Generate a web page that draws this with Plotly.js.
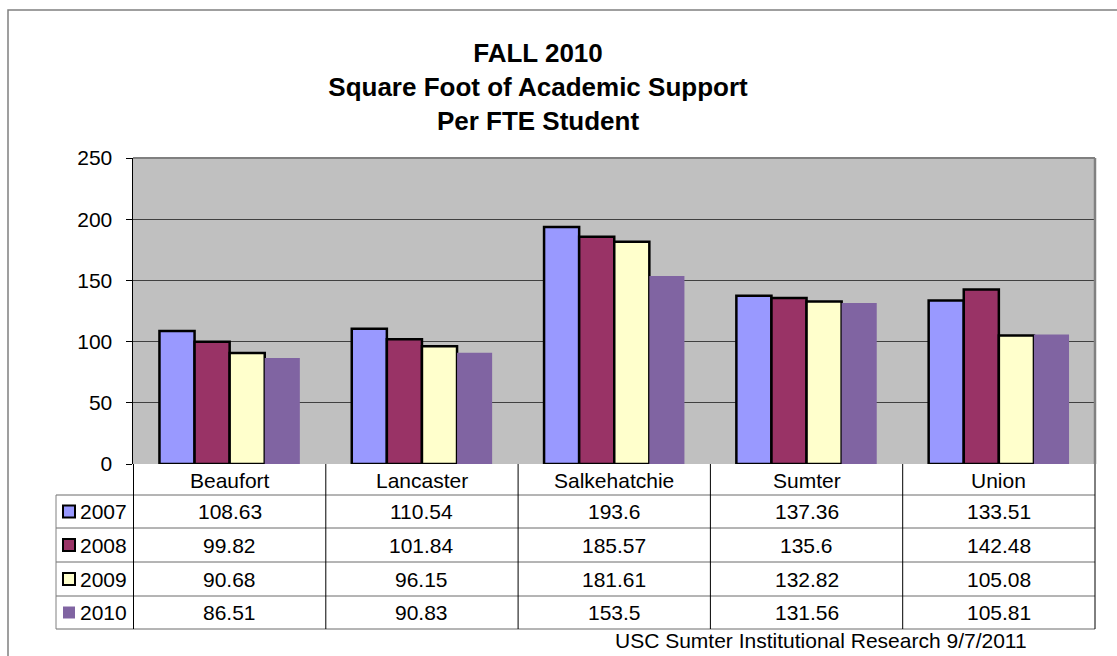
<!DOCTYPE html>
<html>
<head>
<meta charset="utf-8">
<script src="https://cdn.plot.ly/plotly-3.0.1.min.js"></script>
<style>html,body{margin:0;padding:0;background:#fff;}#chart{width:1117px;height:656px;}</style>
</head>
<body>
<div id="chart"></div>
<script>
var categories = ["Beaufort", "Lancaster", "Salkehatchie", "Sumter", "Union"];
var seriesNames = ["2007", "2008", "2009", "2010"];
var values2007 = [108.63, 110.54, 193.6, 137.36, 133.51];
var values2008 = [99.82, 101.84, 185.57, 135.6, 142.48];
var values2009 = [90.68, 96.15, 181.61, 132.82, 105.08];
var values2010 = [86.51, 90.83, 153.5, 131.56, 105.81];
var tableText = {
  "2007": ["108.63", "110.54", "193.6", "137.36", "133.51"],
  "2008": ["99.82", "101.84", "185.57", "135.6", "142.48"],
  "2009": ["90.68", "96.15", "181.61", "132.82", "105.08"],
  "2010": ["86.51", "90.83", "153.5", "131.56", "105.81"]
};
var yTicks = [0, 50, 100, 150, 200, 250];
var colors = ["#9999FF", "#993366", "#FFFFCC", "#8064A2"];
var borderW = [2.5, 2.5, 2.5, 0];

var FONT = "Arial, 'Liberation Sans', sans-serif";
var FS = 21;
var W = 1117, H = 656;
var L = 133, R = 1095, T = 158, B = 464;
function px(x) { return (x - L) / (R - L); }
function py(y) { return (B - y) / (B - T); }

var allValues = [values2007, values2008, values2009, values2010];
var traces = seriesNames.map(function (n, i) {
  return {
    type: "bar", name: n, x: categories, y: allValues[i],
    marker: { color: colors[i], line: { color: borderW[i] ? "#000" : colors[i], width: borderW[i] } },
    hoverinfo: "x+y+name"
  };
});

var shapes = [];
var annotations = [];
// outer frame
shapes.push({ type: "rect", xref: "paper", yref: "paper", x0: px(8), x1: px(1130), y0: py(10), y1: py(700),
  line: { color: "#808080", width: 1.5 }, fillcolor: "rgba(0,0,0,0)", layer: "below" });
// plot border top/right
shapes.push({ type: "line", xref: "paper", yref: "paper", x0: 0, x1: 1, y0: 1, y1: 1, line: { color: "#808080", width: 2 } });
shapes.push({ type: "line", xref: "paper", yref: "paper", x0: 1, x1: 1, y0: 0, y1: 1, line: { color: "#808080", width: 2.5 } });

var rowLines = [495, 528, 562, 596, 629];
rowLines.forEach(function (y) {
  shapes.push({ type: "line", xref: "paper", yref: "paper", x0: px(56), x1: 1, y0: py(y), y1: py(y),
    line: { color: "#6a6a6a", width: 1 } });
});
shapes.push({ type: "line", xref: "paper", yref: "paper", x0: 1, x1: 1, y0: py(464), y1: py(629), line: { color: "#000", width: 1 } });
shapes.push({ type: "line", xref: "paper", yref: "paper", x0: px(56), x1: px(56), y0: py(495), y1: py(629), line: { color: "#808080", width: 1 } });
for (var c = 0; c < categories.length; c++) {
  shapes.push({ type: "line", xref: "x", yref: "paper", x0: c - 0.5, x1: c - 0.5, y0: py(464), y1: py(629),
    line: { color: "#000", width: 1 } });
}
categories.forEach(function (cat) {
  annotations.push({ xref: "x", yref: "paper", x: cat, y: py(480), text: cat, showarrow: false,
    xanchor: "center", yanchor: "middle", font: { family: FONT, size: FS, color: "#000" } });
});
var rowCenters = [511.5, 545, 579, 612.5];
seriesNames.forEach(function (n, i) {
  var yc = rowCenters[i];
  shapes.push({ type: "rect", xref: "paper", yref: "paper", x0: px(63), x1: px(75), y0: py(yc - 6), y1: py(yc + 6),
    fillcolor: colors[i], line: { color: borderW[i] ? "#000" : colors[i], width: borderW[i] ? 2 : 0 } });
  annotations.push({ xref: "paper", yref: "paper", x: px(78), y: py(yc), text: n, showarrow: false,
    xanchor: "left", yanchor: "middle", font: { family: FONT, size: FS, color: "#000" } });
  categories.forEach(function (cat, j) {
    annotations.push({ xref: "x", yref: "paper", x: cat, y: py(yc), text: tableText[n][j], showarrow: false,
      xanchor: "center", yanchor: "middle", font: { family: FONT, size: FS, color: "#000" } });
  });
});
annotations.push({ xref: "paper", yref: "paper", x: px(1029), y: py(640), text: "USC Sumter Institutional Research 9/7/2011",
  showarrow: false, xanchor: "right", yanchor: "middle", font: { family: FONT, size: FS, color: "#000" } });

var layout = {
  width: W, height: H,
  margin: { l: L, r: W - R, t: T, b: H - B, pad: 0 },
  paper_bgcolor: "#ffffff", plot_bgcolor: "#C0C0C0",
  showlegend: false,
  barmode: "group", bargap: 0.27, bargroupgap: 0,
  title: { text: "<b>FALL 2010<br>Square Foot of Academic Support<br>Per FTE Student</b>",
    x: 538 / W, xanchor: "center", xref: "container", y: 1 - 62 / H, yanchor: "top", yref: "container",
    font: { family: FONT, size: 26, color: "#000" } },
  xaxis: { type: "category", showticklabels: false, ticks: "", showgrid: false, zeroline: false,
    showline: false, fixedrange: true },
  yaxis: { range: [0, 250], tickvals: yTicks, ticktext: yTicks.map(String), showgrid: true, gridcolor: "#404040", gridwidth: 1,
    zeroline: false, showline: true, linecolor: "#000", linewidth: 1.5, ticks: "outside", ticklen: 6, tickcolor: "#000",
    ticklabelstandoff: 9, tickfont: { family: FONT, size: FS, color: "#000" }, fixedrange: true },
  shapes: shapes, annotations: annotations
};
Plotly.newPlot("chart", traces, layout, { displayModeBar: false, staticPlot: true });
</script>
</body>
</html>
